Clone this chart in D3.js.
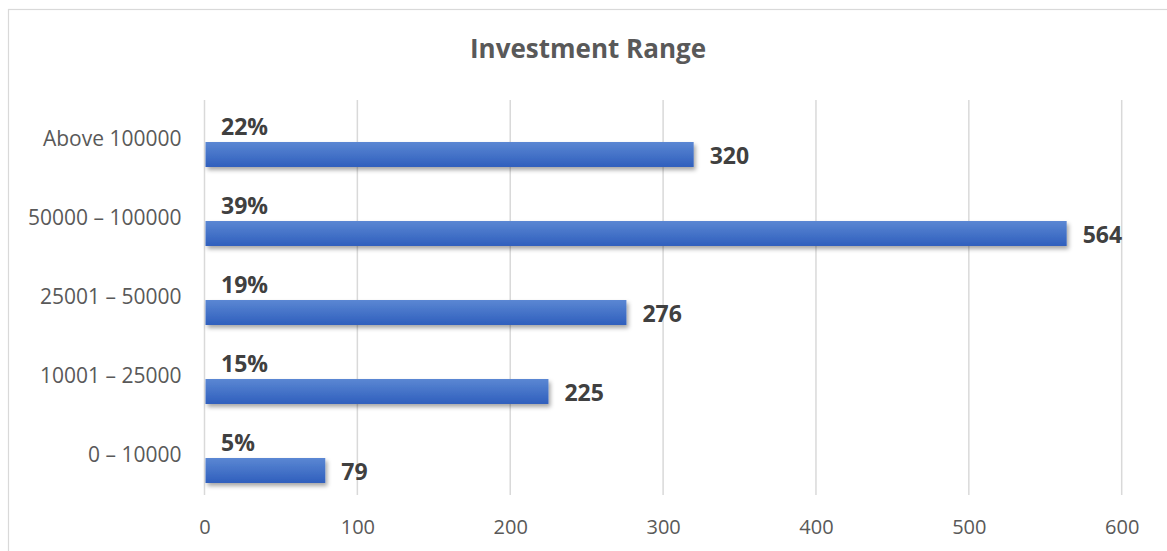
<!DOCTYPE html>
<html>
<head>
<meta charset="utf-8">
<script src="https://cdn.jsdelivr.net/npm/d3@7"></script>
<style>
  body { margin: 0; background: #fff; }
  svg { display: block; }
</style>
</head>
<body>
<div id="chart"></div>
<script>
// data
const categories = ["Above 100000", "50000 – 100000", "25001 – 50000", "10001 – 25000", "0 – 10000"];
const counts = [320, 564, 276, 225, 79];
const percents = [22, 39, 19, 15, 5];
const xTicks = [0, 100, 200, 300, 400, 500, 600];

const width = 1167, height = 551;
const plot = { left: 204.5, right: 1121.7, top: 100, bottom: 495 };

const svg = d3.select("#chart").append("svg")
  .attr("width", width)
  .attr("height", height)
  .style("font-family", "'Open Sans', sans-serif");

// chart border
svg.append("rect")
  .attr("x", 8.5).attr("y", 9.5)
  .attr("width", width + 20).attr("height", height + 20)
  .attr("fill", "#fff")
  .attr("stroke", "#d9d9d9")
  .attr("stroke-width", 1.2);

const defs = svg.append("defs");
const grad = defs.append("linearGradient")
  .attr("id", "barGrad")
  .attr("x1", 0).attr("y1", 0).attr("x2", 0).attr("y2", 1);
grad.append("stop").attr("offset", "0%").attr("stop-color", "#5b87d3");
grad.append("stop").attr("offset", "100%").attr("stop-color", "#2f5fbd");

const shadow = defs.append("filter")
  .attr("id", "shadow")
  .attr("x", "-5%").attr("y", "-30%").attr("width", "115%").attr("height", "180%");
shadow.append("feDropShadow")
  .attr("dx", 2).attr("dy", 3)
  .attr("stdDeviation", 2.2)
  .attr("flood-color", "#000")
  .attr("flood-opacity", 0.35);

const x = d3.scaleLinear().domain([0, 600]).range([plot.left, plot.right]);
const y = d3.scaleBand().domain(categories).range([plot.top, plot.bottom]);

// title
svg.append("text")
  .attr("x", 588)
  .attr("y", 58)
  .attr("text-anchor", "middle")
  .attr("font-size", 26)
  .attr("font-weight", "bold")
  .attr("fill", "#595959")
  .text("Investment Range");

// gridlines
svg.append("g")
  .selectAll("line")
  .data(xTicks)
  .join("line")
  .attr("x1", d => x(d)).attr("x2", d => x(d))
  .attr("y1", plot.top).attr("y2", plot.bottom)
  .attr("stroke", "#d9d9d9")
  .attr("stroke-width", 1.5);

// x axis labels
const xAxis = svg.append("g")
  .attr("transform", `translate(0,${plot.bottom})`)
  .call(d3.axisBottom(x).tickValues(xTicks).tickSize(0).tickPadding(0).tickFormat(d3.format("d")));
xAxis.select(".domain").remove();
xAxis.selectAll("text")
  .attr("y", 39)
  .attr("dy", null)
  .attr("font-family", "'Open Sans', sans-serif")
  .attr("font-size", 20)
  .attr("fill", "#595959");

// y axis labels
const yAxis = svg.append("g")
  .attr("transform", `translate(${plot.left},0)`)
  .call(d3.axisLeft(y).tickSize(0).tickPadding(23));
yAxis.select(".domain").remove();
yAxis.selectAll("text")
  .attr("font-family", "'Open Sans', sans-serif")
  .attr("font-size", 21)
  .attr("fill", "#595959");

const barTop = d => y(d) + y.bandwidth() / 2 + 2.5;
const barH = 25;

// bars
svg.append("g")
  .selectAll("rect")
  .data(categories)
  .join("rect")
  .attr("x", x(0) + 1)
  .attr("y", d => barTop(d))
  .attr("width", (d, i) => x(counts[i]) - x(0) - 1)
  .attr("height", barH)
  .attr("fill", "url(#barGrad)")
  .attr("filter", "url(#shadow)");

// percent labels
svg.append("g")
  .selectAll("text")
  .data(categories)
  .join("text")
  .attr("x", x(0) + 16.5)
  .attr("y", d => y(d) + y.bandwidth() / 2 - 4.5)
  .attr("font-size", 23)
  .attr("font-weight", "bold")
  .attr("fill", "#404040")
  .text((d, i) => percents[i] + "%");

// count labels
svg.append("g")
  .selectAll("text")
  .data(categories)
  .join("text")
  .attr("x", (d, i) => x(counts[i]) + 16)
  .attr("y", d => barTop(d) + barH / 2 + 9.5)
  .attr("font-size", 23)
  .attr("font-weight", "bold")
  .attr("fill", "#404040")
  .text((d, i) => counts[i]);
</script>
</body>
</html>
